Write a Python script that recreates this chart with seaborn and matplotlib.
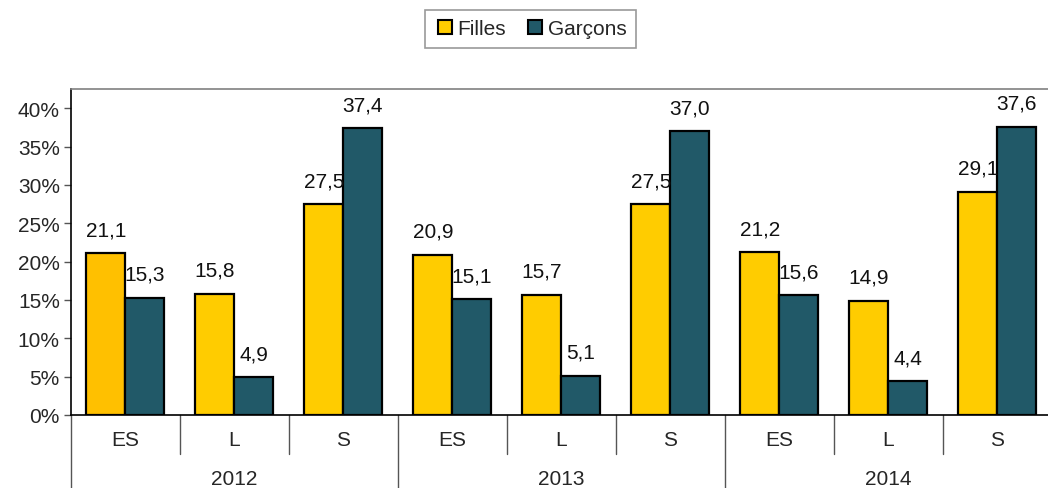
import pandas as pd
import numpy as np
import matplotlib
matplotlib.use("Agg")
import matplotlib.pyplot as plt
import matplotlib.transforms as mtransforms
from matplotlib.lines import Line2D
import seaborn as sns

sns.set_style("white")
plt.rcParams['font.family'] = ['Liberation Sans', 'DejaVu Sans']

# data
years = ["2012", "2013", "2014"]
filieres = ["ES", "L", "S"]
filles = [21.1, 15.8, 27.5, 20.9, 15.7, 27.5, 21.2, 14.9, 29.1]
garcons = [15.3, 4.9, 37.4, 15.1, 5.1, 37.0, 15.6, 4.4, 37.6]
series = ["Filles", "Garçons"]
colors = ["#FFCC00", "#215968"]

keys = [f"{y}-{f}" for y in years for f in filieres]
df = pd.DataFrame({
    "cle": keys * 2,
    "sexe": ["Filles"] * len(keys) + ["Garçons"] * len(keys),
    "val": filles + garcons,
})

FS = 15

fig = plt.figure(figsize=(10.48, 4.89), dpi=100)
# plot area runs past the right edge of the picture, as in the original
ax = fig.add_axes([0.0677, 0.1493, 0.936, 0.6667])

sns.barplot(data=df, x="cle", y="val", hue="sexe", order=keys,
            hue_order=series, palette=colors, edgecolor="black",
            linewidth=1.6, width=0.716, saturation=1, ax=ax, legend=False)

# first bar is a slightly more orange yellow in the original
ax.containers[0].patches[0].set_facecolor("#FFC000")

for cont in ax.containers:
    ax.bar_label(cont, labels=[f"{v:.1f}".replace(".", ",") for v in cont.datavalues],
                 padding=10, fontsize=FS, color="#111111")

ax.set_ylim(0, 42.5)
ax.set_yticks(np.arange(0, 41, 5))
ax.set_yticklabels([f"{v}%" for v in range(0, 41, 5)], fontsize=FS)
ax.tick_params(axis="y", direction="out", length=5, width=1, color="#555555", left=True, pad=3)
ax.set_xlim(-0.5, len(keys) - 0.5)
ax.set_xticks(range(len(keys)))
ax.set_xticklabels(filieres * len(years), fontsize=FS)
ax.tick_params(axis="x", length=0, pad=11)
ax.set_xlabel("")
ax.set_ylabel("")

for side in ["left", "bottom"]:
    ax.spines[side].set_color("black")
    ax.spines[side].set_linewidth(1.2)
ax.spines["top"].set_color("#808080")
ax.spines["top"].set_linewidth(1.2)
ax.spines["right"].set_visible(False)

# two-level category axis separators
trans = mtransforms.blended_transform_factory(ax.transData, ax.transAxes)
for i in range(len(keys)):
    x = i - 0.5
    if i % len(filieres) == 0:
        ax.plot([x, x], [0, -0.23], transform=trans, color="#555555", lw=1, clip_on=False)
    else:
        ax.plot([x, x], [0, -0.12], transform=trans, color="#555555", lw=1, clip_on=False)
for j, y in enumerate(years):
    xc = j * len(filieres) + (len(filieres) - 1) / 2
    ax.text(xc, -0.195, y, transform=trans, ha="center", va="center", fontsize=FS)

handles = [Line2D([], [], marker="s", linestyle="", markersize=10,
                  markerfacecolor=c, markeredgecolor="black", markeredgewidth=1.5)
           for c in colors]
leg = fig.legend(handles, series, loc="center", bbox_to_anchor=(0.506, 0.939), ncol=2,
                 fontsize=FS, frameon=True, fancybox=False, edgecolor="#808080",
                 handletextpad=0.1, columnspacing=0.9, borderpad=0.45, handlelength=1.0)
leg.get_frame().set_linewidth(1.2)

fig.savefig("out.png", dpi=100)
